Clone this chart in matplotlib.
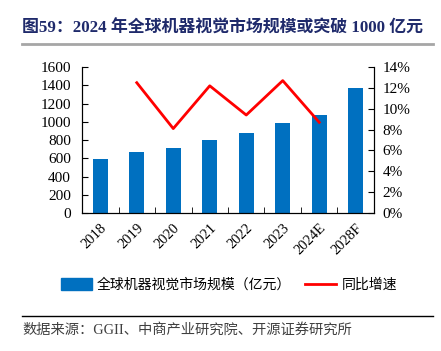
import matplotlib
matplotlib.use('Agg')
import matplotlib.pyplot as plt
from matplotlib.ticker import FuncFormatter, FixedLocator
from matplotlib.lines import Line2D
from matplotlib.patches import Patch

plt.rcParams['font.family'] = ['Liberation Serif', 'Noto Sans CJK SC', 'DejaVu Sans']

# 数据
years = ['2018', '2019', '2020', '2021', '2022', '2023', '2024E', '2028F']
market_size = [592, 665, 716, 803, 880, 990, 1077, 1373]   # 亿元
growth_years = ['2019', '2020', '2021', '2022', '2023', '2024E']
growth_pct = [12.5, 8.1, 12.2, 9.4, 12.7, 8.7]               # %

title = '图59：2024 年全球机器视觉市场规模或突破 1000 亿元'
source = '数据来源：GGII、中商产业研究院、开源证券研究所'

BAR_COLOR = '#0070C0'
LINE_COLOR = '#FF0000'
TITLE_COLOR = '#1F2A6B'

fig = plt.figure(figsize=(4.41, 3.51), dpi=100)
ax = fig.add_axes([0.186, 0.393, 0.662, 0.416])

x = list(range(len(years)))
ax.bar(x, market_size, width=0.4, color=BAR_COLOR, zorder=2)
ax.set_ylim(0, 1600)
ax.set_yticks(range(0, 1601, 200))
ax.set_xlim(-0.5, len(years) - 0.5)
ax.set_xticks(x)
ax.set_xticklabels(years, rotation=45, ha='right', rotation_mode='anchor')
ax.tick_params(axis='x', length=0, labelsize=10.5, pad=6)
ax.tick_params(axis='y', direction='in', length=4, labelsize=11, pad=8)
# 类别间的刻度线
ax.xaxis.set_minor_locator(FixedLocator([i + 0.5 for i in x[:-1]]))
ax.tick_params(axis='x', which='minor', direction='in', length=4)
ax.spines['top'].set_visible(False)

ax2 = ax.twinx()
gx = [years.index(y) for y in growth_years]
ax2.plot(gx, growth_pct, color=LINE_COLOR, lw=2, zorder=3)
ax2.set_ylim(0, 14)
ax2.set_yticks(range(0, 15, 2))
ax2.yaxis.set_major_formatter(FuncFormatter(lambda v, p: f'{v:.0f}%'))
ax2.tick_params(axis='y', direction='in', length=4, labelsize=11, pad=6)
ax2.spines['top'].set_visible(False)

# 标题
fig.text(0.05, 0.919, title, fontsize=12.2, fontweight='bold', color=TITLE_COLOR,
         va='center', ha='left')
fig.add_artist(Line2D([0.05, 0.982], [0.876, 0.876], color='#A6A6A6', lw=2))

# 图例
handles = [Patch(color=BAR_COLOR, label='全球机器视觉市场规模（亿元）'),
           Line2D([0], [0], color=LINE_COLOR, lw=2, label='同比增速')]
fig.legend(handles=handles, loc='center', bbox_to_anchor=(0.519, 0.188), ncol=2,
           frameon=False, fontsize=10, handlelength=2.2, handleheight=0.9,
           columnspacing=1.0, handletextpad=0.4)

# 来源
fig.add_artist(Line2D([0.05, 0.982], [0.1, 0.1], color='black', lw=1))
fig.text(0.05, 0.06, source, fontsize=10.3, color='#404040', va='center', ha='left')

fig.savefig('out.png', dpi=100)
